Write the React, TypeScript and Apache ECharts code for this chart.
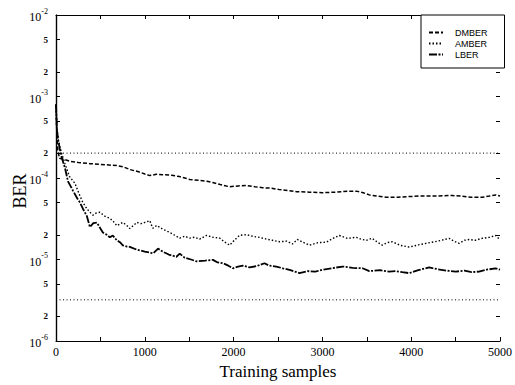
import React, { useEffect, useRef } from "react";
import * as echarts from "echarts";

// ---- data (training samples, BER) ----
const DMBER: [number, number][] = [
  [0, 8.0e-4], [8, 4.0e-4], [20, 2.2e-4], [40, 1.75e-4], [100, 1.68e-4], [157, 1.6e-4],
  [250, 1.55e-4], [382, 1.5e-4], [500, 1.47e-4], [685, 1.42e-4], [760, 1.37e-4], [831, 1.27e-4],
  [921, 1.2e-4], [1000, 1.12e-4], [1056, 1.07e-4], [1130, 1.11e-4], [1202, 1.1e-4],
  [1300, 1.08e-4], [1393, 1.04e-4], [1506, 9.6e-5], [1600, 9.4e-5], [1700, 9.1e-5],
  [1764, 8.8e-5], [1850, 8.3e-5], [1955, 7.8e-5], [2050, 8.0e-5], [2146, 8.1e-5],
  [2240, 7.8e-5], [2326, 7.6e-5], [2420, 7.5e-5], [2517, 7.2e-5], [2620, 7.0e-5],
  [2708, 6.8e-5], [2850, 6.7e-5], [3000, 6.6e-5], [3150, 6.7e-5], [3280, 6.9e-5],
  [3382, 6.9e-5], [3460, 6.6e-5], [3528, 6.2e-5], [3620, 6.0e-5], [3719, 5.8e-5],
  [3850, 5.8e-5], [3950, 5.9e-5], [4090, 6.0e-5], [4250, 6.0e-5], [4461, 6.1e-5],
  [4560, 6.0e-5], [4680, 5.8e-5], [4798, 5.8e-5], [4880, 6.0e-5], [4955, 6.2e-5], [5000, 6.0e-5],
];

const AMBER: [number, number][] = [
  [0, 8.0e-4], [10, 4.2e-4], [25, 3.0e-4], [45, 2.4e-4], [70, 1.9e-4], [101, 1.5e-4],
  [150, 1.05e-4], [213, 8.6e-5], [270, 6.0e-5], [303, 5.0e-5], [348, 4.2e-5], [382, 3.8e-5],
  [416, 3.5e-5], [450, 3.7e-5], [494, 3.8e-5], [550, 3.4e-5], [607, 3.2e-5], [650, 2.9e-5],
  [685, 2.6e-5], [753, 2.85e-5], [800, 2.6e-5], [831, 2.4e-5], [870, 2.6e-5], [910, 2.85e-5],
  [960, 2.75e-5], [1000, 2.85e-5], [1056, 3.0e-5], [1090, 2.42e-5], [1135, 2.62e-5],
  [1200, 2.36e-5], [1281, 2.15e-5], [1340, 1.98e-5], [1393, 1.83e-5], [1450, 1.93e-5],
  [1506, 1.83e-5], [1560, 1.88e-5], [1618, 1.78e-5], [1697, 1.98e-5], [1760, 1.88e-5],
  [1843, 1.83e-5], [1900, 1.64e-5], [1955, 1.5e-5], [2010, 1.73e-5], [2067, 1.98e-5],
  [2146, 2.02e-5], [2220, 1.92e-5], [2292, 1.87e-5], [2370, 1.78e-5], [2438, 1.72e-5],
  [2520, 1.65e-5], [2600, 1.68e-5], [2663, 1.55e-5], [2719, 1.76e-5], [2780, 1.63e-5],
  [2854, 1.5e-5], [2950, 1.61e-5], [3045, 1.63e-5], [3120, 1.82e-5], [3191, 1.97e-5],
  [3280, 1.82e-5], [3382, 1.87e-5], [3440, 1.77e-5], [3494, 1.72e-5], [3560, 1.82e-5],
  [3620, 1.63e-5], [3674, 1.5e-5], [3730, 1.61e-5], [3787, 1.65e-5], [3880, 1.49e-5],
  [3978, 1.42e-5], [4080, 1.51e-5], [4169, 1.58e-5], [4300, 1.68e-5], [4427, 1.82e-5],
  [4480, 1.68e-5], [4539, 1.58e-5], [4600, 1.72e-5], [4652, 1.76e-5], [4720, 1.72e-5],
  [4798, 1.82e-5], [4880, 1.87e-5], [4955, 1.97e-5], [5000, 1.73e-5],
];

const LBER: [number, number][] = [
  [0, 8.0e-4], [10, 3.9e-4], [25, 2.9e-4], [45, 2.2e-4], [70, 1.7e-4], [101, 1.33e-4],
  [135, 9.1e-5], [191, 7.0e-5], [240, 5.6e-5], [270, 5.0e-5], [303, 4.2e-5], [348, 3.4e-5],
  [382, 2.5e-5], [420, 2.8e-5], [461, 2.83e-5], [500, 2.4e-5], [528, 2.14e-5], [570, 2.02e-5],
  [607, 1.87e-5], [640, 1.97e-5], [685, 1.72e-5], [720, 1.63e-5], [753, 1.49e-5], [800, 1.44e-5],
  [831, 1.43e-5], [910, 1.32e-5], [1000, 1.25e-5], [1094, 1.19e-5], [1150, 1.36e-5],
  [1200, 1.25e-5], [1270, 1.15e-5], [1356, 1.08e-5], [1393, 1.18e-5], [1450, 1.05e-5],
  [1520, 1.0e-5], [1581, 9.5e-6], [1680, 9.7e-6], [1768, 9.9e-6], [1820, 9.2e-6],
  [1880, 9.0e-6], [1940, 8.4e-6], [1992, 7.8e-6], [2050, 8.2e-6], [2104, 8.4e-6],
  [2180, 8.0e-6], [2260, 8.3e-6], [2348, 9.0e-6], [2400, 8.4e-6], [2480, 8.2e-6],
  [2554, 7.8e-6], [2640, 7.4e-6], [2742, 6.8e-6], [2830, 7.2e-6], [2920, 7.1e-6],
  [3003, 7.5e-6], [3100, 7.8e-6], [3228, 8.2e-6], [3340, 7.9e-6], [3453, 7.8e-6],
  [3528, 7.2e-6], [3650, 7.4e-6], [3750, 7.1e-6], [3828, 7.2e-6], [3900, 7.0e-6],
  [3978, 6.8e-6], [4080, 7.4e-6], [4202, 8.0e-6], [4300, 7.6e-6], [4400, 7.3e-6],
  [4502, 7.1e-6], [4600, 7.3e-6], [4680, 7.0e-6], [4764, 7.1e-6], [4850, 7.5e-6],
  [4951, 7.8e-6], [5000, 7.5e-6],
];

const upperLevel = 2.02e-4;
const lowerLevel = 3.2e-6;

// ---- axes ----
const xMin = 0;
const xMax = 5000;
const xTicks = [0, 500, 1000, 1500, 2000, 2500, 3000, 3500, 4000, 4500, 5000];
const xLabels = [0, 1000, 2000, 3000, 4000, 5000];
const yMin = 1e-6;
const yMax = 1e-2;
const yTicks = [1e-6, 2e-6, 5e-6, 1e-5, 2e-5, 5e-5, 1e-4, 2e-4, 5e-4, 1e-3, 2e-3, 5e-3, 1e-2];

const SERIF = "'Liberation Serif', 'DejaVu Serif', serif";
const SANS = "'Liberation Sans', Arial, sans-serif";

export default function App() {
  const ref = useRef<HTMLDivElement>(null);

  useEffect(() => {
    if (!ref.current) return;
    const chart = echarts.init(ref.current, undefined, { renderer: "svg" });
    const yLogTicks = yTicks.map((v) => Math.log10(v));
    const yFormatter = (v: number) => {
      const e = Math.round(v);
      if (Math.abs(v - e) < 1e-6) return `{b|10}{s|${e}}`;
      const m = Math.round(Math.pow(10, v - Math.floor(v)));
      return `{m|${m}}`;
    };
    const axisLine = { show: true, lineStyle: { color: "#000", width: 1.2 } };
    const inTick = { show: true, inside: true, length: 4, lineStyle: { color: "#000", width: 1 } };
    const lineSeries = (name: string, data: [number, number][], width: number, type: any, z = 2) => ({
      name,
      type: "line",
      data,
      showSymbol: false,
      symbol: "none",
      itemStyle: { color: "#000" },
      lineStyle: { color: "#000", width, type },
      emphasis: { disabled: true },
      z,
    });

    chart.setOption({
      animation: false,
      backgroundColor: "#fff",
      grid: { left: 56, right: 14, top: 15, bottom: 38, containLabel: false },
      legend: {
        data: ["DMBER", "AMBER", "LBER"],
        orient: "vertical",
        left: 421,
        top: 15,
        padding: [13, 17, 9, 7],
        itemWidth: 14,
        itemHeight: 8,
        itemGap: 2,
        selectedMode: false,
        borderColor: "#000",
        borderWidth: 1,
        backgroundColor: "#fff",
        itemStyle: { opacity: 0 },
        textStyle: { fontSize: 9, fontFamily: SANS, color: "#000", padding: [0, 0, 0, 7] },
      },
      xAxis: [
        {
          type: "value",
          min: xMin,
          max: xMax,
          position: "bottom",
          axisLine,
          axisTick: { ...inTick, customValues: xTicks },
          axisLabel: {
            customValues: xLabels,
            formatter: (v: number) => String(v),
            fontFamily: SERIF,
            fontSize: 12,
            color: "#000",
            margin: 5,
          },
          splitLine: { show: false },
          name: "Training samples",
          nameLocation: "middle",
          nameGap: 22,
          nameTextStyle: { fontFamily: SERIF, fontSize: 17, color: "#000" },
        },
        {
          type: "value",
          min: xMin,
          max: xMax,
          position: "top",
          axisLine,
          axisTick: { ...inTick, customValues: xTicks },
          axisLabel: { show: false },
          splitLine: { show: false },
        },
      ],
      yAxis: [
        {
          type: "log",
          logBase: 10,
          min: yMin,
          max: yMax,
          position: "left",
          axisLine,
          axisTick: { show: false },
          axisLabel: { show: false },
          splitLine: { show: false },
        },
        {
          type: "log",
          logBase: 10,
          min: yMin,
          max: yMax,
          position: "right",
          axisLine,
          axisTick: { show: false },
          axisLabel: { show: false },
          splitLine: { show: false },
        },
        {
          type: "value",
          min: Math.log10(yMin),
          max: Math.log10(yMax),
          position: "left",
          axisLine: { show: false },
          axisTick: { ...inTick, customValues: yLogTicks },
          axisLabel: {
            customValues: yLogTicks,
            formatter: yFormatter,
            margin: 8,
            color: "#000",
            rich: {
              b: { fontFamily: SERIF, fontSize: 12, color: "#000", lineHeight: 16, verticalAlign: "bottom" },
              s: { fontFamily: SERIF, fontSize: 8, color: "#000", lineHeight: 9, verticalAlign: "top" },
              m: { fontFamily: SERIF, fontSize: 9, fontWeight: "bold", color: "#000" },
            },
          },
          splitLine: { show: false },
        },
        {
          type: "value",
          min: Math.log10(yMin),
          max: Math.log10(yMax),
          position: "right",
          axisLine: { show: false },
          axisTick: { ...inTick, customValues: yLogTicks },
          axisLabel: { show: false },
          splitLine: { show: false },
        },
      ],
      graphic: [
        {
          type: "text",
          x: 20,
          y: 191,
          rotation: Math.PI / 2,
          style: {
            text: "BER",
            fontFamily: SERIF,
            fontSize: 18,
            fill: "#000",
            align: "center",
            verticalAlign: "middle",
          },
        },
      ],
      series: [
        lineSeries("bound-upper", [[xMin, upperLevel], [xMax, upperLevel]], 1, [1, 2.5], 1),
        lineSeries("bound-lower", [[xMin, lowerLevel], [xMax, lowerLevel]], 1, [1, 2.5], 1),
        lineSeries("DMBER", DMBER, 1.5, [4, 2]),
        lineSeries("AMBER", AMBER, 1.4, [1.5, 2]),
        lineSeries("LBER", LBER, 1.8, [8, 1.5, 2, 1.5]),
      ],
    });
    return () => chart.dispose();
  }, []);

  return (
    <div
      ref={ref}
      style={{ position: "fixed", left: 0, top: 0, width: 515, height: 385, background: "#fff" }}
    />
  );
}
